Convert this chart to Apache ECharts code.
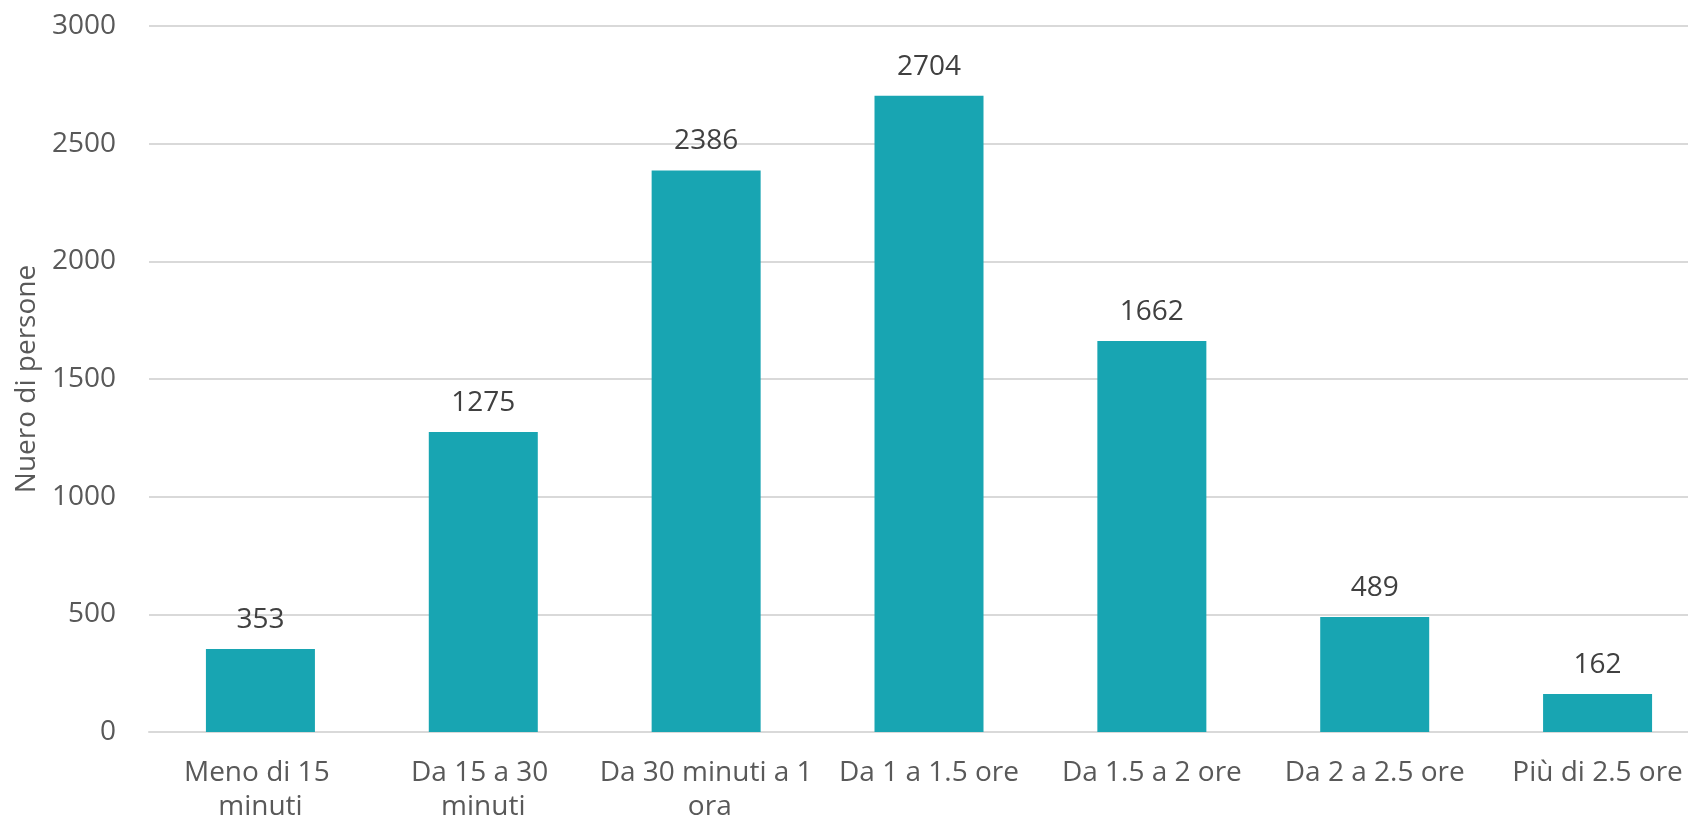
<!DOCTYPE html>
<html>
<head>
<meta charset="utf-8">
<script src="https://cdn.jsdelivr.net/npm/echarts@6/dist/echarts.min.js"></script>
<style>
  html, body { margin: 0; padding: 0; background: #ffffff; overflow: hidden; }
  #chart { width: 1688px; height: 827px; }
</style>
</head>
<body>
<div id="chart"></div>
<script>
// Tempo impiegato: categorie e numero di persone
const categories = [
  'Meno di 15 minuti',
  'Da 15 a 30 minuti',
  'Da 30 minuti a 1 ora',
  'Da 1 a 1.5 ore',
  'Da 1.5 a 2 ore',
  'Da 2 a 2.5 ore',
  'Più di 2.5 ore'
];
const persone = [353, 1275, 2386, 2704, 1662, 489, 162];
const yAxisTitle = 'Nuero di persone';

const FONT = '"Open Sans", sans-serif';

const chart = echarts.init(document.getElementById('chart'), null, { renderer: 'canvas' });
chart.setOption({
  backgroundColor: '#ffffff',
  animation: false,
  // the plot area runs a little past the right edge of the canvas
  grid: {
    left: 149,
    width: 1560,
    top: 26,
    bottom: 95,
    containLabel: false,
    outerBoundsMode: 'none'
  },
  xAxis: {
    type: 'category',
    data: categories,
    axisTick: { show: false },
    axisLine: { show: true, lineStyle: { color: '#d9d9d9', width: 2 } },
    axisLabel: {
      interval: 0,
      color: '#595959',
      fontFamily: FONT,
      fontSize: 28,
      lineHeight: 34,
      margin: 24,
      width: 215,
      overflow: 'break'
    }
  },
  yAxis: {
    type: 'value',
    min: 0,
    max: 3000,
    interval: 500,
    name: yAxisTitle,
    nameLocation: 'middle',
    nameGap: 107,
    nameRotate: 90,
    nameTextStyle: { color: '#595959', fontFamily: FONT, fontSize: 28 },
    axisLine: { show: false },
    axisTick: { show: false },
    splitLine: { lineStyle: { color: '#d9d9d9', width: 2 } },
    axisLabel: {
      color: '#595959',
      fontFamily: FONT,
      fontSize: 28,
      margin: 33,
      formatter: (v) => String(v)
    }
  },
  series: [{
    type: 'bar',
    data: persone,
    barWidth: 109,
    itemStyle: { color: '#18a5b2' },
    label: {
      show: true,
      position: 'top',
      distance: 15,
      color: '#404040',
      fontFamily: FONT,
      fontSize: 28
    }
  }]
});
</script>
</body>
</html>
